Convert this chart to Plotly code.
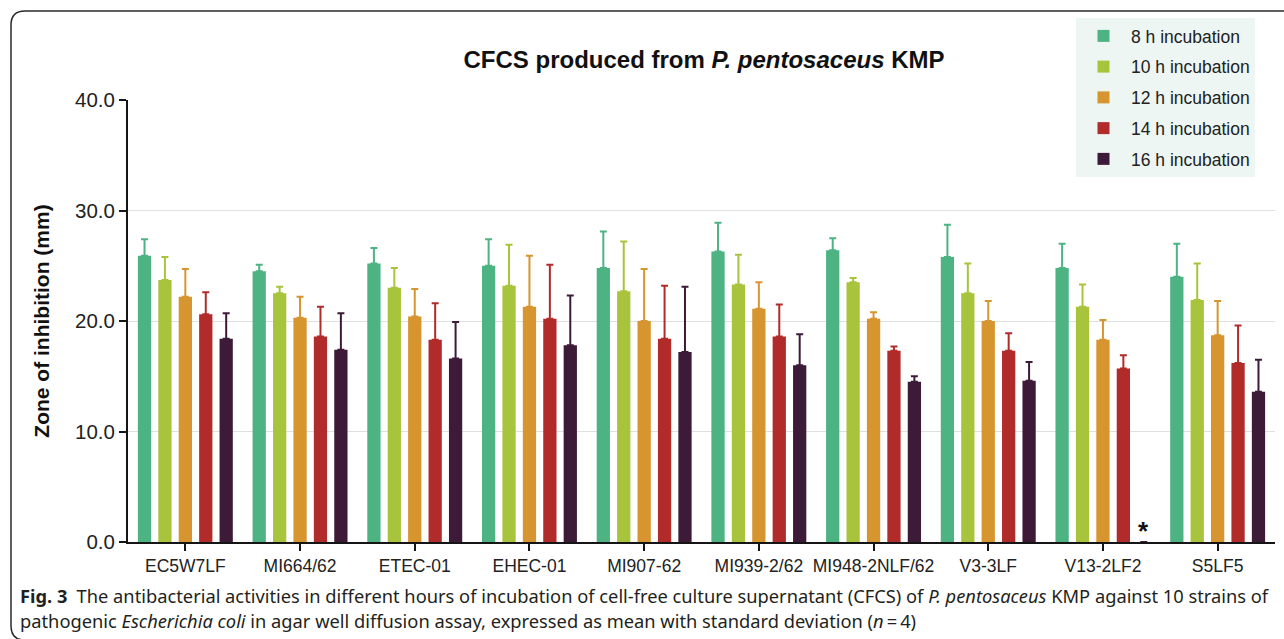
import plotly.graph_objects as go

# Strains tested
strains = ["EC5W7LF", "MI664/62", "ETEC-01", "EHEC-01", "MI907-62",
           "MI939-2/62", "MI948-2NLF/62", "V3-3LF", "V13-2LF2", "S5LF5"]

# Mean zone of inhibition (mm) and SD per incubation time
h8_mean = [25.9, 24.5, 25.2, 25.0, 24.8, 26.3, 26.4, 25.8, 24.8, 24.0]
h8_sd = [1.5, 0.6, 1.4, 2.4, 3.3, 2.6, 1.1, 2.9, 2.2, 3.0]
h10_mean = [23.7, 22.5, 23.0, 23.2, 22.7, 23.3, 23.5, 22.5, 21.3, 21.9]
h10_sd = [2.1, 0.6, 1.8, 3.7, 4.5, 2.7, 0.4, 2.7, 2.0, 3.3]
h12_mean = [22.2, 20.3, 20.4, 21.3, 20.0, 21.1, 20.2, 20.0, 18.3, 18.7]
h12_sd = [2.5, 1.9, 2.5, 4.6, 4.7, 2.4, 0.6, 1.8, 1.8, 3.1]
h14_mean = [20.6, 18.6, 18.3, 20.2, 18.4, 18.6, 17.3, 17.3, 15.7, 16.2]
h14_sd = [2.0, 2.7, 3.3, 4.9, 4.8, 2.9, 0.4, 1.6, 1.2, 3.4]
h16_mean = [18.4, 17.4, 16.6, 17.8, 17.2, 16.0, 14.5, 14.6, 0.0, 13.6]
h16_sd = [2.3, 3.3, 3.3, 4.5, 5.9, 2.8, 0.5, 1.7, None, 2.9]

series_names = ["8 h incubation", "10 h incubation", "12 h incubation",
                "14 h incubation", "16 h incubation"]
series_means = [h8_mean, h10_mean, h12_mean, h14_mean, h16_mean]
series_sds = [h8_sd, h10_sd, h12_sd, h14_sd, h16_sd]
series_colors = ["#4db383", "#a8c43c", "#d6952e", "#b22b2b", "#3d1b38"]

# Page / plot geometry (pixels)
W, H = 1284, 639
ML, MR, MT, MB = 128, 9, 100, 97
PW, PH = W - ML - MR, H - MT - MB
BARGAP, BARGROUPGAP = 0.11, 0.35
FONT = "Liberation Sans, Arial, Helvetica, sans-serif"
CAPTION_FONT = "Noto Sans, Open Sans, sans-serif"


def paper_x(px):
    return (px - ML) / PW


def paper_y(py):
    return (H - MB - py) / PH


fig = go.Figure()
for name, means, sds, color in zip(series_names, series_means, series_sds, series_colors):
    fig.add_trace(go.Bar(
        name=name,
        x=strains,
        y=means,
        marker=dict(color=color, line=dict(width=0)),
        error_y=dict(type="data", array=sds, arrayminus=[0] * len(sds),
                     symmetric=False, color=color, thickness=2, width=3.5),
        legendgroup=name,
    ))

# No growth-inhibition value for 16 h on V13-2LF2: mark with an asterisk
slot_px = PW / len(strains) * (1 - BARGAP) / len(series_names)
fig.add_annotation(
    x=strains[8], y=0, xref="x", yref="y", text="<b>*</b>", showarrow=False,
    xshift=2 * slot_px, yanchor="bottom", yshift=-6,
    font=dict(family=FONT, size=26, color="#111111"),
)

# Rounded frame around the figure
L, T, R, B, r = 11, 11, 1300, 640, 14
frame = (f"M {paper_x(R)},{paper_y(T)} L {paper_x(L + r)},{paper_y(T)} "
         f"Q {paper_x(L)},{paper_y(T)} {paper_x(L)},{paper_y(T + r)} "
         f"L {paper_x(L)},{paper_y(B - r)} "
         f"Q {paper_x(L)},{paper_y(B)} {paper_x(L + r)},{paper_y(B)} "
         f"L {paper_x(R)},{paper_y(B)}")
fig.add_shape(type="path", path=frame, xref="paper", yref="paper",
              line=dict(color="#2a2a2a", width=1.5), layer="below")

# Figure caption
caption_1 = ("<b>Fig. 3</b>\u2002The antibacterial activities in different hours of incubation "
             "of cell-free culture supernatant (CFCS) of <i>P. pentosaceus</i> KMP against "
             "10 strains of")
caption_2 = ("pathogenic <i>Escherichia coli</i> in agar well diffusion assay, expressed as "
             "mean with standard deviation (<i>n</i>\u2009=\u20094)")
for text, py in [(caption_1, 595), (caption_2, 620)]:
    fig.add_annotation(
        x=paper_x(18), y=paper_y(py), xref="paper", yref="paper",
        text=text, showarrow=False, xanchor="left", yanchor="middle", align="left",
        font=dict(family=CAPTION_FONT, size=18.3, color="#231f20"),
    )

fig.update_layout(
    width=W, height=H,
    margin=dict(l=ML, r=MR, t=MT, b=MB, autoexpand=False),
    paper_bgcolor="white", plot_bgcolor="white",
    font=dict(family=FONT, color="#222222"),
    barmode="group", bargap=BARGAP, bargroupgap=BARGROUPGAP,
    title=dict(
        text="<b>CFCS produced from <i>P. pentosaceus</i> KMP</b>",
        x=paper_x(704), xref="paper", xanchor="center",
        y=1 - 60 / H, yanchor="middle",
        font=dict(family=FONT, size=24, color="#111111"),
    ),
    legend=dict(
        x=paper_x(1076), y=paper_y(18), xanchor="left", yanchor="top",
        bgcolor="#edf6f2", borderwidth=0,
        font=dict(family=FONT, size=17.5, color="#222222"),
        tracegroupgap=5, itemwidth=45,
    ),
    showlegend=True,
)

fig.update_yaxes(
    range=[0, 40], tickvals=[0, 10, 20, 30, 40],
    ticktext=["0.0", "10.0", "20.0", "30.0", "40.0"],
    showline=True, linecolor="#151515", linewidth=2,
    ticks="outside", ticklen=7, tickwidth=2, tickcolor="#151515",
    showgrid=True, gridcolor="#e0e0e0", gridwidth=1, zeroline=False,
    tickfont=dict(family=FONT, size=20.5, color="#222222"),
    title=dict(text="<b>Zone of inhibition (mm)</b>", standoff=20,
               font=dict(family=FONT, size=21, color="#111111")),
)
fig.update_xaxes(
    showline=True, linecolor="#151515", linewidth=2,
    ticks="outside", ticklen=7, tickwidth=2, tickcolor="#151515",
    showgrid=False, tickfont=dict(family=FONT, size=17.5, color="#222222"),
)

fig.write_html("out.html")
